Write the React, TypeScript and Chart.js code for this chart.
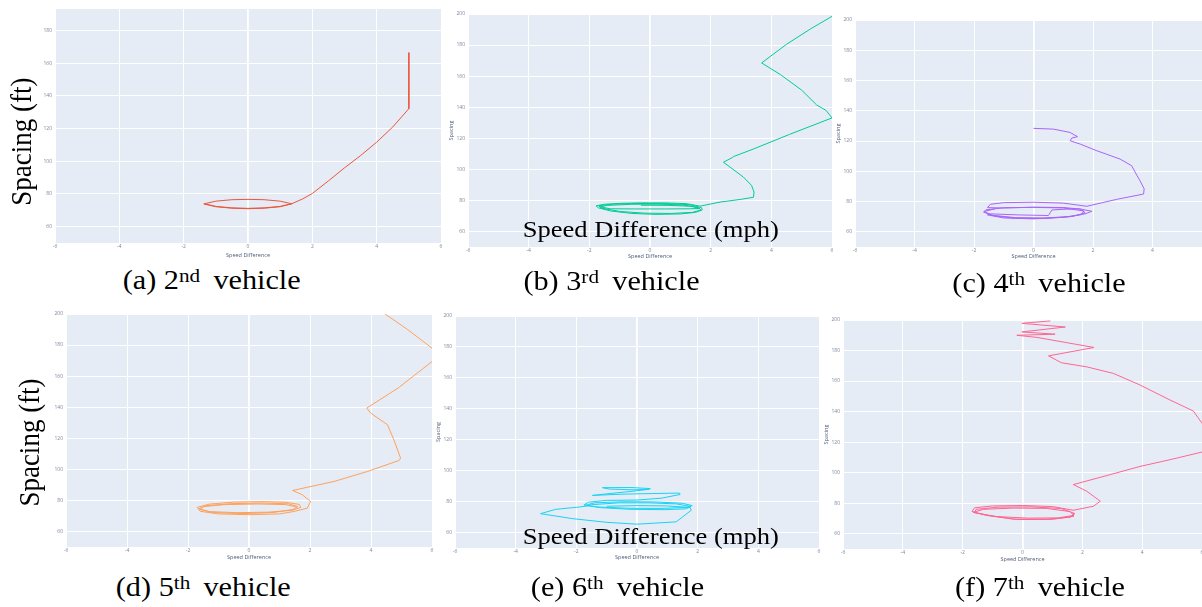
import React, { useEffect, useRef } from "react";
import { Chart, registerables } from "chart.js";

Chart.register(...registerables);

// ---------- tick labels ----------
const X_TICKS = [-6, -4, -2, 0, 2, 4, 6];
const Y_TICKS = [60, 80, 100, 120, 140, 160, 180, 200];
const Y_TICKS_A = [60, 80, 100, 120, 140, 160, 180];

// ---------- series: [speed difference, spacing] ----------
const v2Tail: [number, number][] = [
  [5.0, 166.5], [5.0, 150], [5.0, 132.2], [4.5, 121], [4.0, 111.7], [3.5, 103.5],
  [3.0, 96], [2.5, 88], [2.0, 80.3], [1.7, 77], [1.36, 74],
];
const v2Loop: [number, number][] = [
  [1.36, 74], [1.0, 75.6], [0.5, 76.5], [0, 76.7], [-0.5, 76.5], [-1.0, 75.6], [-1.36, 74],
  [-1.0, 72.4], [-0.5, 71.5], [0, 71.2], [0.5, 71.5], [1.0, 72.4], [1.36, 74],
  [1.0, 72.2], [0.5, 71.3], [0, 71.0], [-0.5, 71.3], [-1.0, 72.2], [-1.38, 73.9],
];

const v3Tail: [number, number][] = [
  [6.0, 198.5], [5.3, 190.5], [4.5, 180.5], [3.68, 168.5], [4.3, 161], [5.0, 151],
  [5.49, 141.5], [5.8, 138], [6.0, 133.1], [4.6, 122.5], [3.4, 113], [2.75, 108.2],
  [2.7, 107.4], [2.42, 104.6], [2.64, 101.4], [3.08, 95], [3.35, 89.6], [3.43, 85.3],
  [3.41, 82], [2.97, 80.6], [2.31, 78.9], [1.65, 76.3],
];
const v3Loop: [number, number][] = [
  [1.65, 76.3], [1.2, 77.9], [0.5, 78.4], [-0.3, 78.4], [-1.0, 78.1], [-1.5, 77.5], [-1.78, 76.5],
  [-1.7, 75.2], [-1.3, 73.2], [-0.6, 71.6], [0.2, 71.0], [1.0, 71.3], [1.5, 72.3], [1.72, 73.8],
  [1.7, 75.3], [1.3, 77.3], [0.5, 77.9], [-0.4, 78.0], [-1.2, 77.6], [-1.7, 76.6], [-1.6, 75.0],
  [-1.0, 72.9], [-0.2, 71.8], [0.7, 71.6], [1.4, 72.3], [1.68, 73.8], [1.6, 75.3], [1.1, 77.0],
  [0.3, 77.6], [-0.6, 77.5], [-1.4, 76.8], [-1.65, 75.8], [-1.3, 74.6], [-0.5, 74.5], [0.5, 74.5],
  [1.3, 74.6], [1.62, 74.8], [1.4, 76.2], [0.6, 76.8], [-0.3, 76.9],
];

const v4Tail: [number, number][] = [
  [0, 128.4], [0.67, 127.9], [1.23, 125.7], [1.48, 122.9], [1.29, 122.0], [1.23, 120.2],
  [1.57, 118.0], [2.13, 113.6], [2.91, 108.1], [3.3, 103.7], [3.45, 98.2], [3.58, 93.8],
  [3.72, 88.4], [3.7, 85.0], [2.8, 81.5], [1.79, 76.9],
];
const v4Loop: [number, number][] = [
  [1.79, 76.9], [1.0, 79.0], [0, 79.6], [-1.0, 79.3], [-1.45, 78.2], [-1.55, 76.0],
  [-1.0, 75.8], [0, 76.3], [1.0, 76.1], [1.6, 75.0], [1.96, 73.6], [1.75, 72.0], [1.2, 70.0],
  [0.3, 68.8], [-0.6, 69.0], [-1.3, 70.5], [-1.68, 73.0], [-1.6, 74.6], [-1.0, 75.9], [0, 76.2],
  [1.0, 75.8], [1.7, 73.8], [1.6, 71.4], [1.0, 69.6], [0, 68.6], [-1.0, 69.2], [-1.55, 71.2],
  [-1.46, 71.9], [-0.5, 71.2], [0.5, 70.8], [0.62, 74.5], [1.1, 75.0], [1.57, 75.2], [1.74, 72.5],
  [1.3, 70.2], [0.4, 69.2], [-0.6, 69.4], [-1.4, 71.0], [-1.65, 73.5], [-1.3, 75.2],
];

const v5Tail: [number, number][] = [
  [4.35, 201.5], [5.2, 190], [6.0, 178], [6.35, 173.5], [6.0, 169.4], [4.9, 152.5],
  [3.86, 139.4], [3.99, 136.2], [4.54, 128.7], [4.75, 119], [4.97, 107.2], [4.92, 105.7],
  [3.88, 98.6], [2.79, 92.2], [1.43, 86.4], [1.75, 83.6], [2.02, 79.3], [1.91, 75.0], [1.48, 72.9],
];
const v5Loop: [number, number][] = [
  [1.48, 72.9], [1.0, 71.3], [0, 70.8], [-1.0, 71.3], [-1.6, 73.0], [-1.7, 75.5], [-1.3, 77.6],
  [-0.5, 78.9], [0.5, 79.2], [1.2, 78.8], [1.65, 77.4], [1.7, 75.5], [1.4, 73.6], [0.6, 72.4],
  [-0.4, 72.1], [-1.3, 72.8], [-1.65, 74.6], [-1.4, 76.6], [-0.6, 77.9], [0.4, 78.3], [1.3, 77.8],
  [1.6, 76.0], [1.45, 74.2], [0.8, 72.2], [-0.2, 71.5], [-1.2, 72.2], [-1.6, 74.2], [-1.5, 76.0],
  [-0.8, 77.3], [0.3, 77.7], [1.2, 77.3], [1.55, 75.8],
];

const v6Path: [number, number][] = [
  [0.45, 88.4], [-0.2, 89.1], [-1.14, 89.0], [-0.9, 88.1], [-0.1, 87.6], [0.41, 88.0],
  [-0.2, 86.6], [-1.0, 85.0], [-1.47, 84.0], [-0.5, 84.8], [0.5, 85.2], [1.4, 85.5], [1.42, 84.6],
  [0.8, 82.2], [0.0, 81.0], [-1.0, 80.8], [-1.6, 79.6], [-1.75, 77.8], [-1.3, 76.5], [-0.3, 75.7],
  [0.8, 75.6], [1.6, 76.2], [1.82, 77.4], [1.5, 78.9], [0.6, 79.8], [-0.5, 79.9], [-1.4, 79.2],
  [-1.7, 77.6], [-1.2, 76.1], [-0.2, 75.0], [0.9, 74.8], [1.6, 75.3], [1.78, 76.8], [1.3, 78.5],
  [0.4, 79.2], [-0.6, 79.2], [-1.5, 78.0], [-1.63, 77.2], [-1.9, 76.5], [-2.68, 75.0],
  [-3.18, 72.2], [-2.13, 69.0], [-1.0, 66.6], [0, 65.4], [1.29, 66.9], [1.79, 74.4],
  [1.75, 76.2], [1.0, 77.2], [0, 77.4], [-1.0, 77.0],
];

const v7Tail: [number, number][] = [
  [0.93, 199.4], [-0.02, 197.8], [1.43, 195.4], [-0.02, 192.2], [1.09, 190.7], [-0.19, 190.0],
  [0.48, 188.6], [2.39, 182.0], [0.87, 176.5], [1.3, 172.0], [2.15, 169.3], [3.04, 165.0],
  [3.93, 157.4], [4.93, 147.6], [5.71, 140.4], [6.0, 132.4], [6.5, 122], [6.0, 113.5],
  [4.93, 108.5], [3.93, 104.1], [2.93, 98.7], [1.7, 92.2], [2.15, 87.8], [2.6, 81.3],
  [2.37, 78.0], [1.7, 75.4],
];
const v7Loop: [number, number][] = [
  [1.7, 75.4], [1.0, 77.8], [0, 78.5], [-1.0, 78.2], [-1.6, 77.0], [-1.69, 74.6], [-1.2, 72.0],
  [-0.3, 69.6], [0.8, 69.5], [1.6, 70.8], [1.75, 73.2], [1.3, 76.5], [0.3, 77.6], [-0.8, 77.4],
  [-1.55, 76.0], [-1.6, 73.8], [-0.9, 71.3], [0.2, 70.2], [1.2, 70.4], [1.7, 72.0], [1.6, 74.5],
  [0.8, 76.6], [-0.3, 76.8], [-1.3, 76.0], [-1.65, 74.0], [-1.2, 72.2], [-0.2, 69.3],
  [1.0, 69.4], [1.72, 71.5], [1.7, 73.8],
];

// ---------- layout of the six panels (plot-area rectangles in page px) ----------
type Box = { l: number; t: number; r: number; b: number };
type PanelDef = {
  box: Box; yMax: number; yTicks: number[]; color: string;
  series: [number, number][][]; xh: number; yTitle: boolean;
};

const PANELS: PanelDef[] = [
  { box: { l: 55, t: 8.3, r: 441, b: 243 }, yMax: 193.2, yTicks: Y_TICKS_A, color: "#EF553B", series: [v2Tail, v2Loop], xh: 16, yTitle: false },
  { box: { l: 468, t: 12.7, r: 832, b: 247 }, yMax: 200, yTicks: Y_TICKS, color: "#00CC96", series: [v3Tail, v3Loop], xh: 13, yTitle: true },
  { box: { l: 855, t: 19, r: 1212, b: 246.7 }, yMax: 200, yTicks: Y_TICKS, color: "#AB63FA", series: [v4Tail, v4Loop], xh: 13, yTitle: true },
  { box: { l: 65.7, t: 313.3, r: 431.7, b: 547.3 }, yMax: 200, yTicks: Y_TICKS, color: "#FFA15A", series: [v5Tail, v5Loop], xh: 14, yTitle: false },
  { box: { l: 455, t: 315, r: 819, b: 548.3 }, yMax: 200, yTicks: Y_TICKS, color: "#19D3F3", series: [v6Path], xh: 13, yTitle: true },
  { box: { l: 842.7, t: 319, r: 1202, b: 549.3 }, yMax: 200, yTicks: Y_TICKS, color: "#FF6692", series: [v7Tail, v7Loop], xh: 14, yTitle: true },
];

const YW = 20;
const PT = 5;
const PR = 5;

const bgPlugin = {
  id: "plotBg",
  beforeDraw(chart: any) {
    const { ctx, chartArea } = chart;
    if (!chartArea) return;
    ctx.save();
    ctx.fillStyle = "#E5ECF6";
    ctx.fillRect(chartArea.left, chartArea.top, chartArea.right - chartArea.left, chartArea.bottom - chartArea.top);
    ctx.restore();
  },
};

const TICK_FONT = { size: 5, family: "'Open Sans', 'DejaVu Sans', sans-serif" };
const TITLE_FONT = { size: 5.5, family: "'Open Sans', 'DejaVu Sans', sans-serif" };

function Panel({ def }: { def: PanelDef }) {
  const ref = useRef<HTMLCanvasElement>(null);
  const { box, xh } = def;
  const w = Math.round(box.r - box.l + YW + PR);
  const h = Math.round(box.b - box.t + PT + xh);
  useEffect(() => {
    const chart = new Chart(ref.current as HTMLCanvasElement, {
      type: "scatter",
      data: {
        datasets: def.series.map((pts) => ({
          data: pts.map(([x, y]) => ({ x, y })),
          showLine: true,
          borderColor: def.color,
          backgroundColor: def.color,
          borderWidth: 1,
          pointRadius: 0,
          pointHoverRadius: 0,
          tension: 0,
          fill: false,
          clip: 0,
        })),
      },
      options: {
        responsive: false,
        animation: false,
        events: [],
        layout: { padding: { top: PT, right: PR, left: 0, bottom: 0 } },
        plugins: { legend: { display: false }, tooltip: { enabled: false } },
        scales: {
          x: {
            type: "linear",
            min: -6,
            max: 6,
            afterBuildTicks: (s: any) => { s.ticks = X_TICKS.map((v) => ({ value: v })); },
            afterFit: (s: any) => { s.height = xh; },
            grid: {
              color: "#ffffff",
              lineWidth: (c: any) => (c.tick && c.tick.value === 0 ? 1.8 : 1),
              drawTicks: false,
            },
            border: { display: false },
            ticks: { font: TICK_FONT, color: "#7d889c", padding: 1, maxRotation: 0, autoSkip: false },
            title: { display: true, text: "Speed Difference", font: TITLE_FONT, color: "#4d5c78", padding: 0 },
          },
          y: {
            type: "linear",
            min: 50,
            max: def.yMax,
            afterBuildTicks: (s: any) => { s.ticks = def.yTicks.map((v) => ({ value: v })); },
            afterFit: (s: any) => { s.width = YW; },
            grid: { color: "#ffffff", lineWidth: 1, drawTicks: false },
            border: { display: false },
            ticks: { font: TICK_FONT, color: "#7d889c", padding: 3, autoSkip: false },
            title: { display: def.yTitle, text: "Spacing", font: TITLE_FONT, color: "#4d5c78", padding: 0 },
          },
        },
      },
      plugins: [bgPlugin],
    } as any);
    return () => chart.destroy();
  }, []);
  return (
    <canvas
      ref={ref}
      width={w}
      height={h}
      style={{ position: "absolute", left: Math.round(box.l - YW), top: Math.round(box.t - PT), width: w, height: h }}
    />
  );
}

const SERIF = "'Liberation Serif', 'Times New Roman', serif";

function Label({ cx, cy, size, sx, rot = 0, children }: any) {
  return (
    <div
      style={{
        position: "absolute",
        left: 0,
        top: 0,
        transformOrigin: "0 0",
        transform: `translate(${cx}px, ${cy}px) scaleX(${sx}) rotate(${rot}deg) translate(-50%, -50%)`,
        fontFamily: SERIF,
        fontSize: size,
        lineHeight: 1,
        whiteSpace: "nowrap",
        color: "#000",
      }}
    >
      {children}
    </div>
  );
}

const SUP_STYLE: React.CSSProperties = {
  fontSize: "0.7em",
  verticalAlign: "baseline",
  position: "relative",
  top: "-0.36em",
  marginRight: "0.27em",
};

const CAPTIONS: { letter: string; num: string; sup: string; cx: number; cy: number }[] = [
  { letter: "a", num: "2", sup: "nd", cx: 211.7, cy: 280 },
  { letter: "b", num: "3", sup: "rd", cx: 611.5, cy: 281 },
  { letter: "c", num: "4", sup: "th", cx: 1039, cy: 283 },
  { letter: "d", num: "5", sup: "th", cx: 203.3, cy: 587.4 },
  { letter: "e", num: "6", sup: "th", cx: 617.5, cy: 587.4 },
  { letter: "f", num: "7", sup: "th", cx: 1040, cy: 587.4 },
];

export default function App() {
  return (
    <div style={{ position: "absolute", left: 0, top: 0, width: 1202, height: 607, overflow: "hidden", background: "#ffffff" }}>
      {PANELS.map((p, i) => (
        <Panel key={i} def={p} />
      ))}
      <Label cx={21.5} cy={141.7} size={27} sx={1.12} rot={-90}>Spacing (ft)</Label>
      <Label cx={29.9} cy={442.5} size={27} sx={1.12} rot={-90}>Spacing (ft)</Label>
      <Label cx={650.8} cy={229.8} size={23.5} sx={1.13}>Speed Difference (mph)</Label>
      <Label cx={650.8} cy={537.1} size={23.5} sx={1.13}>Speed Difference (mph)</Label>
      {CAPTIONS.map((c) => (
        <Label key={c.letter} cx={c.cx} cy={c.cy} size={27} sx={1.12}>
          ({c.letter}) {c.num}
          <sup style={SUP_STYLE}>{c.sup}</sup> vehicle
        </Label>
      ))}
    </div>
  );
}
